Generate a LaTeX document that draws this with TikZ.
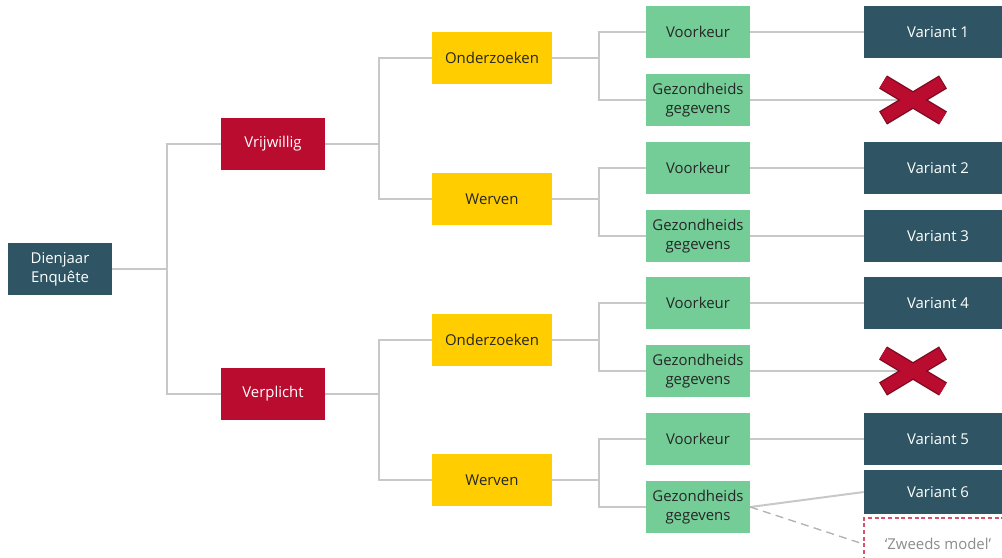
\documentclass[tikz,border=0pt]{standalone}
\usepackage{fontspec}
\setmainfont{Open Sans}
\usetikzlibrary{positioning,calc}
\definecolor{petrol}{HTML}{2F5564}
\definecolor{karmijn}{HTML}{BA0C2F}
\definecolor{donkerrood}{HTML}{7C0A20}
\definecolor{geel}{HTML}{FFCD00}
\definecolor{mint}{HTML}{74CD96}
\definecolor{lijn}{HTML}{C8C8C8}
\definecolor{roze}{HTML}{D8506C}

\begin{document}
\begin{tikzpicture}[
	x=0.75pt, y=-0.75pt,
	every node/.style={font=\fontsize{11.2}{14.5}\selectfont, align=center, inner sep=0pt},
	box/.style={minimum width=78pt, minimum height=39pt},
	hoofd/.style={box, fill=petrol, text=white},
	keuze/.style={box, fill=karmijn, text=white},
	doel/.style={box, fill=geel, text=black!85, minimum width=90pt},
	soort/.style={box, fill=mint, text=black!85},
	variant/.style={box, fill=petrol, text=white, minimum width=111pt},
	link/.style={draw=lijn, line width=1.5pt},
	kruis/.style={line width=#1, line cap=butt}
	]
	\clip (0,0) rectangle (1002,557);
	% boxes
	\node[hoofd] (dien) at (60,269) {Dienjaar\\Enquête};
	\node[keuze] (vrij) at (273,144) {Vrijwillig};
	\node[keuze] (verp) at (273,394) {Verplicht};
	\node[doel] (ond1) at (492,58) {Onderzoeken};
	\node[doel] (wer1) at (492,199) {Werven};
	\node[doel] (ond2) at (492,340) {Onderzoeken};
	\node[doel] (wer2) at (492,480) {Werven};
	\node[soort] (vk1) at (698,32) {Voorkeur};
	\node[soort] (gg1) at (698,100) {Gezondheids\\gegevens};
	\node[soort] (vk2) at (698,168) {Voorkeur};
	\node[soort] (gg2) at (698,236) {Gezondheids\\gegevens};
	\node[soort] (vk3) at (698,303) {Voorkeur};
	\node[soort] (gg3) at (698,371) {Gezondheids\\gegevens};
	\node[soort] (vk4) at (698,439) {Voorkeur};
	\node[soort] (gg4) at (698,507) {Gezondheids\\gegevens};
	\node[variant] (var1) at (938,32) {Variant 1};
	\node[variant] (var2) at (938,168) {Variant 2};
	\node[variant] (var3) at (938,236) {Variant 3};
	\node[variant] (var4) at (938,303) {Variant 4};
	\node[variant] (var5) at (938,439) {Variant 5};
	\node[variant, minimum height=33pt] (var6) at (938,492) {Variant 6};
	\node[box, minimum width=111pt, draw=roze, dashed, dash pattern=on 3pt off 2pt, line width=1pt, fill=white, text=black!45] (zweeds) at (938,544) {‘Zweeds model’};
	\coordinate (x1) at (913,100);
	\coordinate (x2) at (913,371);
	% tree
	\foreach \a/\b in {dien/vrij, dien/verp}
	\draw[link] (\a.east) -- ++(55,0) |- (\b.west);
	\foreach \a/\b in {vrij/ond1, vrij/wer1, verp/ond2, verp/wer2}
	\draw[link] (\a.east) -- ++(54,0) |- (\b.west);
	\foreach \a/\b in {ond1/vk1, ond1/gg1, wer1/vk2, wer1/gg2, ond2/vk3, ond2/gg3, wer2/vk4, wer2/gg4}
	\draw[link] (\a.east) -- ++(47,0) |- (\b.west);
	\foreach \a/\b in {vk1/var1, vk2/var2, gg2/var3, vk3/var4, vk4/var5, gg4/var6}
	\draw[link] (\a.east) -- (\b.west);
	\draw[link, draw=black!30, line width=1pt, dashed, dash pattern=on 6pt off 4pt] (gg4.east) -- (zweeds.west);
	\draw[link] (gg1.east) -- (x1);
	\draw[link] (gg3.east) -- (x2);
	% crosses
	\foreach \c in {x1, x2} {
		\draw[kruis=11.5pt, donkerrood] ($(\c)+(-30,-18)$) -- ($(\c)+(30,18)$) ($(\c)+(-30,18)$) -- ($(\c)+(30,-18)$);
		\draw[kruis=9.5pt, karmijn, shorten <=0.8pt, shorten >=0.8pt] ($(\c)+(-30,-18)$) -- ($(\c)+(30,18)$) ($(\c)+(-30,18)$) -- ($(\c)+(30,-18)$);
	}
\end{tikzpicture}
\end{document}
